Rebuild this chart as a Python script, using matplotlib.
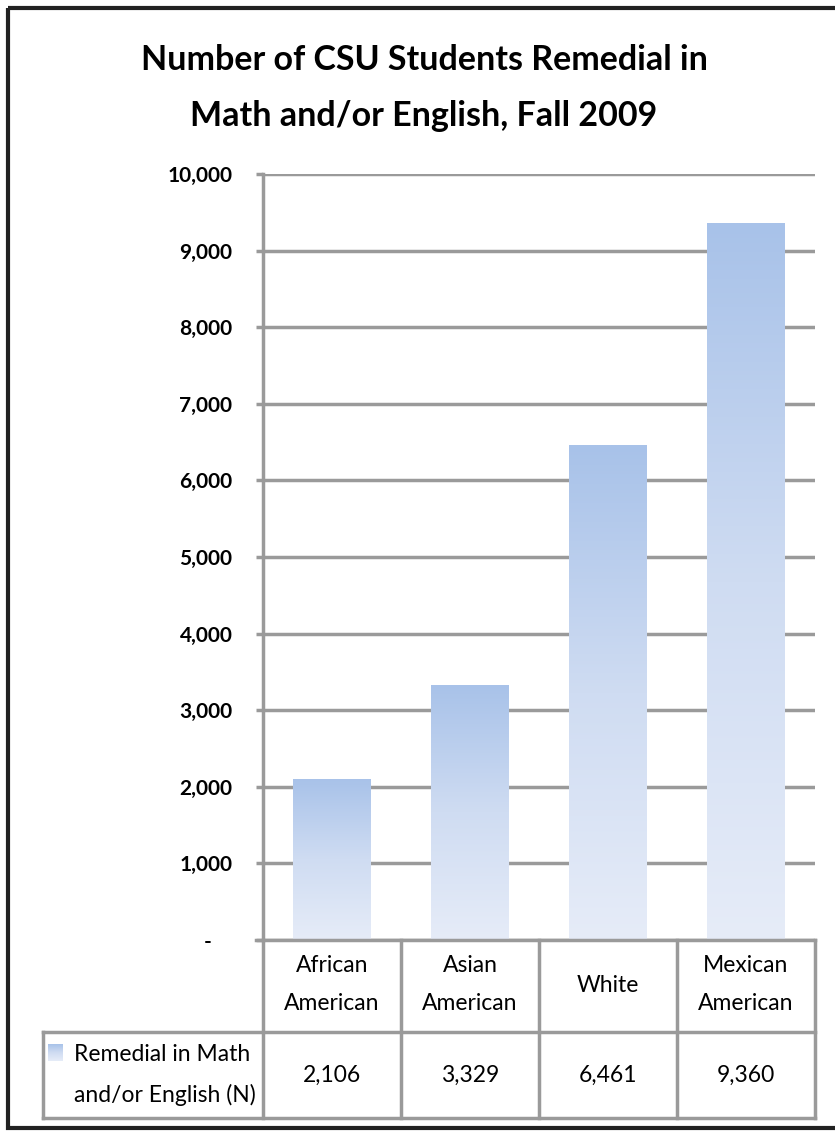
import matplotlib
matplotlib.use("Agg")
import matplotlib.pyplot as plt
import numpy as np
from matplotlib import font_manager
from matplotlib.colors import LinearSegmentedColormap
from matplotlib.patches import Rectangle

# data
categories = ["African\nAmerican", "Asian\nAmerican", "White", "Mexican\nAmerican"]
values = [2106, 3329, 6461, 9360]
series_label = "Remedial in Math\nand/or English (N)"
title = "Number of CSU Students Remedial in\nMath and/or English, Fall 2009"
y_ticks = list(range(0, 10001, 1000))

# pick a narrow, Calibri-like face if there is one
installed = {f.name for f in font_manager.fontManager.ttflist}
FONT = next((f for f in ["Liberation Sans Narrow", "Lato", "DejaVu Sans"] if f in installed))
plt.rcParams["font.family"] = FONT

W, H = 835, 1132
GRID = "#9a9a9a"
grad = LinearSegmentedColormap.from_list("bar", ["#e6ecf8", "#cfdcf2", "#a8c2e9"])


def fx(px):
    return px / W


def fy(py):
    return 1 - py / H


fig = plt.figure(figsize=(W / 100, H / 100), dpi=100)

# plot area
ax = fig.add_axes([fx(263), fy(940), fx(815) - fx(263), fy(174) - fy(940)])
x = np.arange(len(values)) + 0.5
bars = ax.bar(x, values, width=0.56, color="none", edgecolor="none", zorder=2)
for b in bars:
    x0, w, h = b.get_x(), b.get_width(), b.get_height()
    im = ax.imshow(np.linspace(0, 1, 256).reshape(-1, 1), extent=[x0, x0 + w, 0, h],
                   origin="lower", cmap=grad, aspect="auto", zorder=2)
    im.set_clip_path(b)

ax.set_xlim(0, len(values))
ax.set_ylim(0, 10000)
ax.set_yticks(y_ticks)
# Excel accounting format: zero shows as a dash, padded off the right edge
ax.set_yticklabels(["-    " if v == 0 else f"{v:,}" for v in y_ticks],
                   fontsize=15, fontweight="bold")
ax.tick_params(axis="y", length=5, width=2.5, color=GRID, pad=17)
ax.set_xticks([])
ax.yaxis.grid(True, color=GRID, lw=2.5)
ax.set_axisbelow(True)
for s in ["top", "right", "bottom"]:
    ax.spines[s].set_visible(False)
ax.spines["left"].set_color(GRID)
ax.spines["left"].set_linewidth(2.5)

# overlay in pixel coordinates for title, data table and frame
ov = fig.add_axes([0, 0, 1, 1])
ov.set_xlim(0, W)
ov.set_ylim(H, 0)
ov.axis("off")

ov.text(424, 88, title, ha="center", va="center", fontsize=24.5,
        fontweight="bold", linespacing=1.9)

cols = [263, 401, 539, 677, 815]
row_top, row_mid, row_bot = 940, 1032, 1118
lkw = dict(color=GRID, lw=2.5, solid_capstyle="projecting")
ov.plot([256, cols[-1]], [row_top, row_top], **lkw)
for c in cols:
    ov.plot([c, c], [row_top, row_bot], **lkw)
ov.plot([43, cols[-1]], [row_mid, row_mid], **lkw)
ov.plot([43, cols[-1]], [row_bot, row_bot], **lkw)
ov.plot([43, 43], [row_mid, row_bot], **lkw)

for i, (cat, val) in enumerate(zip(categories, values)):
    cx = (cols[i] + cols[i + 1]) / 2
    ov.text(cx, (row_top + row_mid) / 2 - 1, cat, ha="center", va="center",
            fontsize=16.5, linespacing=2.0)
    ov.text(cx, (row_mid + row_bot) / 2, f"{val:,}", ha="center", va="center",
            fontsize=16.5)

# legend key inside the table
ov.imshow(np.linspace(0, 1, 64).reshape(-1, 1), extent=[48, 63, 1061, 1044],
          origin="lower", cmap=grad, aspect="auto")
ov.set_xlim(0, W)
ov.set_ylim(H, 0)
ov.text(74, (row_mid + row_bot) / 2, series_label, ha="left", va="center",
        fontsize=16.5, linespacing=2.0)

# outer chart frame
ov.add_patch(Rectangle((8, 8), W + 20, 1120, fill=False, edgecolor="#222222", lw=3))

fig.savefig("out.png", dpi=100)
